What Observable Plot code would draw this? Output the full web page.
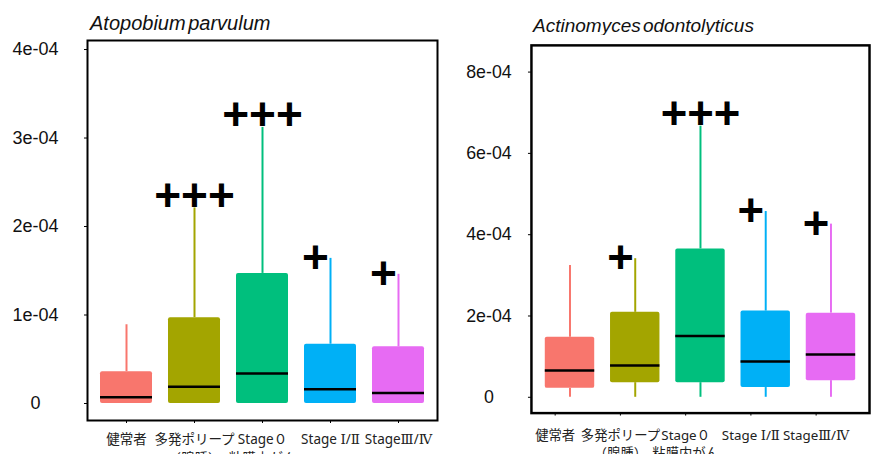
<!DOCTYPE html>
<html>
<head>
<meta charset="utf-8">
<script src="https://cdn.jsdelivr.net/npm/d3@7"></script>
<script src="https://cdn.jsdelivr.net/npm/@observablehq/plot@0.6"></script>
<style>
  html, body { margin: 0; padding: 0; background: #fff; overflow: hidden; width: 871px; height: 454px; }
  .title { position: absolute; font-family: "Liberation Sans", Arial, sans-serif; font-style: italic; color: #111; line-height: 1; white-space: nowrap; word-spacing: -3px; }
  .panel { position: absolute; }
</style>
</head>
<body>
<div class="title" id="t1" style="left:90px; top:13px; font-size:20px;"></div>
<div class="title" id="t2" style="left:533px; top:16px; font-size:19px;"></div>
<div class="panel" id="p1" style="left:0px; top:35px;"></div>
<div class="panel" id="p2" style="left:440px; top:35px;"></div>
<script>
// ---- data ----
const categories = ["健常者", "多発ポリープ\n（腺腫）", "Stage０\n粘膜内がん", "Stage Ⅰ/Ⅱ", "StageⅢ/Ⅳ"];
const boxColors = ["#F8766D", "#A3A500", "#00BF7D", "#00B0F6", "#E76BF3"];

// Atopobium parvulum
const apTitle = "Atopobium parvulum";
const apLow  = [0, 0, 0, 0, 0];
const apQ1   = [0, 0, 0, 0, 0];
const apMed  = [0.07e-4, 0.19e-4, 0.34e-4, 0.16e-4, 0.12e-4];
const apQ3   = [0.36e-4, 0.97e-4, 1.47e-4, 0.67e-4, 0.64e-4];
const apHigh = [0.89e-4, 2.21e-4, 3.12e-4, 1.64e-4, 1.46e-4];
const apSig  = ["", "+++", "+++", "+", "+"];
const apTicks = [0, 1e-4, 2e-4, 3e-4, 4e-4];
const apTickLabels = ["0", "1e-04", "2e-04", "3e-04", "4e-04"];

// Actinomyces odontolyticus
const aoTitle = "Actinomyces odontolyticus";
const aoLow  = [0, 0, 0, 0, 0];
const aoQ1   = [0.22e-4, 0.36e-4, 0.36e-4, 0.24e-4, 0.41e-4];
const aoMed  = [0.66e-4, 0.78e-4, 1.51e-4, 0.88e-4, 1.05e-4];
const aoQ3   = [1.48e-4, 2.09e-4, 3.65e-4, 2.12e-4, 2.07e-4];
const aoHigh = [3.24e-4, 3.41e-4, 6.67e-4, 4.57e-4, 4.26e-4];
const aoSig  = ["", "+", "+++", "+", "+"];
const aoTicks = [0, 2e-4, 4e-4, 6e-4, 8e-4];
const aoTickLabels = ["0", "2e-04", "4e-04", "6e-04", "8e-04"];

// ---- build ----
function rows(low, q1, med, q3, high, sig) {
  return categories.map((c, i) => ({cat: c, low: low[i], q1: q1[i], med: med[i], q3: q3[i], high: high[i], sig: sig[i]}));
}

function panel(data, o) {
  const labelMap = new Map(o.ticks.map((t, i) => [t, o.tickLabels[i]]));
  const sans = "Liberation Sans, Arial, sans-serif";
  return Plot.plot({
    width: o.width, height: o.height,
    marginTop: o.mt, marginLeft: o.ml, marginRight: o.mr, marginBottom: o.mb,
    style: {background: "white", overflow: "visible"},
    x: {domain: categories, paddingInner: 0.235, paddingOuter: 0.19},
    y: {domain: o.yDomain},
    color: {domain: categories, range: boxColors},
    marks: [
      Plot.axisY({ticks: o.ticks, tickFormat: d => labelMap.get(d), tickSize: 3, tickPadding: o.yPad,
        textAnchor: "middle", fontSize: 18, fontFamily: sans, fill: "#111", label: null}),
      Plot.axisX({tickSize: 3, tickPadding: o.xPad, dx: o.xdx, fontSize: 13.5,
        fontFamily: "Noto Sans, DejaVu Serif, Noto Sans CJK JP",
        lineHeight: 1.35, fill: "#222", label: null}),
      Plot.ruleX(data, {x: "cat", y1: "q3", y2: "high", stroke: "cat", strokeWidth: 2}),
      Plot.ruleX(data, {x: "cat", y1: "low", y2: "q1", stroke: "cat", strokeWidth: 2}),
      Plot.barY(data, {x: "cat", y1: "q1", y2: "q3", fill: "cat", rx: 2}),
      Plot.tickY(data, {x: "cat", y: "med", stroke: "black", strokeWidth: 2.5}),
      Plot.text(data.filter(d => d.sig === "+++"), {x: "cat", y: "high", text: "sig", fontSize: 46, fontWeight: "bold",
        fontFamily: sans, lineAnchor: "middle", dy: -12, fill: "black"}),
      Plot.text(data.filter(d => d.sig === "+"), {x: "cat", y: "high", text: "sig", fontSize: 46, fontWeight: "bold",
        fontFamily: sans, lineAnchor: "middle", dx: -15, fill: "black"}),
      Plot.frame({stroke: "black", strokeWidth: o.frameW})
    ]
  });
}

document.getElementById("t1").textContent = apTitle;
document.getElementById("t2").textContent = aoTitle;

document.getElementById("p1").append(panel(rows(apLow, apQ1, apMed, apQ3, apHigh, apSig), {
  width: 445, height: 419, mt: 5, ml: 87, mr: 8, mb: 34,
  yDomain: [-0.192e-4, 4.102e-4], ticks: apTicks, tickLabels: apTickLabels, yPad: 49, xPad: 8, xdx: 0, frameW: 2
}));
document.getElementById("p2").append(panel(rows(aoLow, aoQ1, aoMed, aoQ3, aoHigh, aoSig), {
  width: 436, height: 419, mt: 10, ml: 92, mr: 2, mb: 37,
  yDomain: [-0.389e-4, 8.657e-4], ticks: aoTicks, tickLabels: aoTickLabels, yPad: 40, xPad: 11, xdx: -15, frameW: 2.5
}));
</script>
</body>
</html>
